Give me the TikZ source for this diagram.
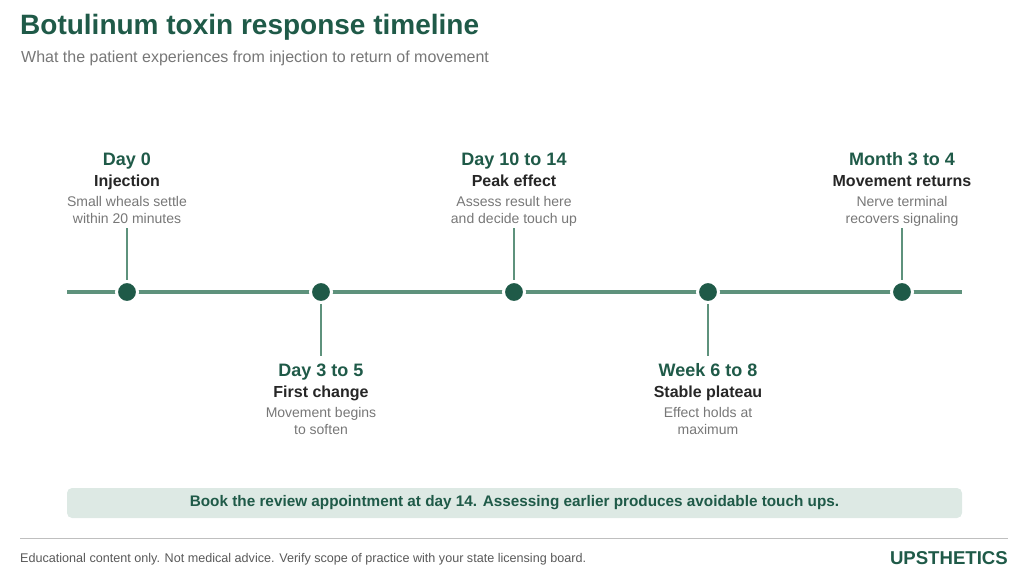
\documentclass[tikz,border=0pt]{standalone}
\usepackage{fontspec}
\setmainfont{Liberation Sans}
\definecolor{dk}{HTML}{1F5A48}
\definecolor{ln}{HTML}{5E927C}
\definecolor{gr}{HTML}{777777}
\definecolor{bn}{HTML}{DDE9E4}
\begin{document}
\begin{tikzpicture}[x=1pt,y=-1pt,
  day/.style={font=\fontsize{18}{20}\selectfont\bfseries,text=dk,anchor=base},
  ttl/.style={font=\fontsize{16}{18}\selectfont\bfseries,text=black!85,anchor=base},
  dsc/.style={font=\fontsize{14}{17}\selectfont,text=gr,align=center,anchor=north},
  dot/.style={circle,fill=dk,minimum size=21pt,inner sep=0pt,draw=white,line width=3pt},
  stem/.style={draw=ln,line width=2pt}]
\useasboundingbox (0,0) rectangle (1024,574);
\node[anchor=base west,font=\fontsize{28}{30}\selectfont\bfseries,text=dk,inner sep=0] (title) at (20,34) {Botulinum toxin response timeline};
\node[anchor=base west,font=\fontsize{16}{18}\selectfont,text=gr,inner sep=0] (sub) at (21,62) {What the patient experiences from injection to return of movement};
\coordinate (L) at (67,292); \coordinate (R) at (962,292);
\draw[ln,line width=4pt] (L) -- (R);
\foreach \n/\x in {a/127,b/321,c/514,d/708,e/902}{\node[dot] (\n) at (\x,292) {};}
\foreach \n/\x/\d/\t/\s in {a/127/Day 0/Injection/{Small wheals settle\\within 20 minutes},c/514/Day 10 to 14/Peak effect/{Assess result here\\and decide touch up},e/902/Month 3 to 4/Movement returns/{Nerve terminal\\recovers signaling}}{
 \node[day] (d\n) at (\x,165) {\d};
 \node[ttl] (t\n) at (\x,186) {\t};
 \node[dsc] (s\n) at (\x,193) {\s};
 \coordinate (p\n) at (\x,228);
 \draw[stem] (p\n) -- (\n.north);}
\foreach \n/\x/\d/\t/\s in {b/321/Day 3 to 5/First change/{Movement begins\\to soften},d/708/Week 6 to 8/Stable plateau/{Effect holds at\\maximum}}{
 \node[day] (d\n) at (\x,376) {\d};
 \node[ttl] (t\n) at (\x,397) {\t};
 \node[dsc] (s\n) at (\x,404) {\s};
 \coordinate (p\n) at (\x,356);
 \draw[stem] (\n.south) -- (p\n);}
\node[fill=bn,rounded corners=5pt,minimum width=895pt,minimum height=30pt,font=\fontsize{15.3}{18}\selectfont\bfseries,text=dk] (ban) at (514.5,503) {Book the review appointment at day 14. Assessing earlier produces avoidable touch ups.};
\coordinate (r1) at (20,538); \coordinate (r2) at (1008,538);
\draw[black!25,line width=1pt] (r1) -- (r2);
\node[anchor=base west,inner sep=0,font=\fontsize{12.6}{14}\selectfont,text=black!65] (foot) at (20,562) {Educational content only. Not medical advice. Verify scope of practice with your state licensing board.};
\node[anchor=base east,inner sep=0,font=\fontsize{18.6}{20}\selectfont\bfseries,text=dk] (logo) at (1008,564) {UPSTHETICS};
\end{tikzpicture}
\end{document}
